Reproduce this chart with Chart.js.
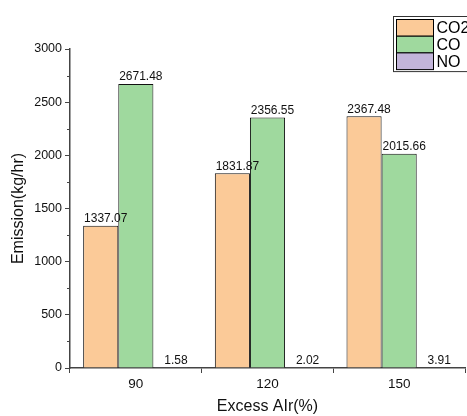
<!DOCTYPE html>
<html>
<head>
<meta charset="utf-8">
<script src="https://cdn.jsdelivr.net/npm/chart.js@4"></script>
<style>
  html, body { margin: 0; padding: 0; background: #fff; }
  #wrap { width: 467px; height: 416px; position: relative; }
</style>
</head>
<body>
<div id="wrap"><canvas id="chart" width="467" height="416"></canvas></div>
<script>
/* ---------- Data ---------- */
const categories = ['90', '120', '150'];
const co2Values = [1337.07, 1831.87, 2367.48];
const coValues = [2671.48, 2356.55, 2015.66];
const noValues = [1.58, 2.02, 3.91];
const seriesNames = ['CO2', 'CO', 'NO'];
const yTicks = [0, 500, 1000, 1500, 2000, 2500, 3000];

const colors = ['#fbca98', '#9fd99e', '#c3b5da'];
const FONT = '"Liberation Sans", Arial, sans-serif';

/* ---------- Plugins ---------- */
// value labels above each bar (Origin puts them a little right of centre)
const valueLabels = {
    id: 'valueLabels',
    afterDatasetsDraw(chart) {
        const ctx = chart.ctx;
        ctx.save();
        ctx.font = '12px ' + FONT;
        ctx.fillStyle = '#111';
        ctx.textAlign = 'center';
        ctx.textBaseline = 'bottom';
        chart.data.datasets.forEach((ds, i) => {
            chart.getDatasetMeta(i).data.forEach((bar, j) => {
                ctx.fillText(ds.data[j].toFixed(2), bar.x + 5, bar.y - 1);
            });
        });
        ctx.restore();
    }
};

// minor ticks on the y axis (halfway between labels)
const minorTicks = {
    id: 'minorTicks',
    afterDraw(chart) {
        const y = chart.scales.y;
        const ctx = chart.ctx;
        ctx.save();
        ctx.strokeStyle = '#444';
        ctx.lineWidth = 1;
        for (let i = 0; i < yTicks.length - 1; i++) {
            const v = (yTicks[i] + yTicks[i + 1]) / 2;
            const py = Math.round(y.getPixelForValue(v)) + 0.5;
            ctx.beginPath();
            ctx.moveTo(y.right - 3, py);
            ctx.lineTo(y.right, py);
            ctx.stroke();
        }
        ctx.restore();
    }
};

// boxed legend in the top-right corner
const boxLegend = {
    id: 'boxLegend',
    afterDraw(chart) {
        const ctx = chart.ctx;
        const x0 = 393.5, y0 = 16.5, rowH = 16.7;
        ctx.save();
        ctx.fillStyle = '#fff';
        ctx.fillRect(x0, y0, 80, rowH * 3 + 5);
        ctx.strokeStyle = '#333';
        ctx.lineWidth = 1;
        ctx.strokeRect(x0, y0, 80, rowH * 3 + 5);
        ctx.font = '16px ' + FONT;
        ctx.textBaseline = 'middle';
        chart.data.datasets.forEach((ds, i) => {
            const top = y0 + 3 + i * rowH;
            ctx.fillStyle = ds.backgroundColor;
            ctx.fillRect(x0 + 3, top, 37, rowH);
            ctx.strokeStyle = '#000';
            ctx.strokeRect(x0 + 3, top, 37, rowH);
            ctx.fillStyle = '#000';
            ctx.fillText(ds.label, x0 + 43, top + rowH / 2 + 1);
        });
        ctx.restore();
    }
};

/* ---------- Chart ---------- */
const datasets = [co2Values, coValues, noValues].map((vals, i) => ({
    label: seriesNames[i],
    data: vals,
    backgroundColor: colors[i],
    borderColor: '#111',
    borderWidth: 1,
    categoryPercentage: 0.8,
    barPercentage: 1
}));

new Chart(document.getElementById('chart'), {
    type: 'bar',
    data: { labels: categories, datasets: datasets },
    plugins: [valueLabels, minorTicks, boxLegend],
    options: {
        responsive: false,
        animation: false,
        devicePixelRatio: 1,
        layout: { padding: { top: 49, right: 2, left: 9, bottom: 0 } },
        plugins: {
            legend: { display: false },
            tooltip: { enabled: false }
        },
        scales: {
            x: {
                grid: { drawOnChartArea: false, offset: true, tickLength: 5, color: '#444' },
                border: { color: '#444', width: 1.5 },
                ticks: { color: '#111', font: { family: FONT, size: 13.5 }, padding: 3 },
                title: { display: true, text: 'Excess AIr(%)', color: '#111', font: { family: FONT, size: 16 }, padding: { top: 0, bottom: 0 } },
                afterFit(scale) { scale.height = 48; }
            },
            y: {
                min: 0,
                max: 3000,
                afterBuildTicks(scale) { scale.ticks = yTicks.map(v => ({ value: v })); },
                grid: { drawOnChartArea: false, tickLength: 5, color: '#444' },
                border: { color: '#444', width: 1.5 },
                ticks: {
                    color: '#111',
                    font: { family: FONT, size: 12.5 },
                    padding: 3,
                    callback: v => String(v)
                },
                title: { display: true, text: 'Emission(kg/hr)', color: '#111', font: { family: FONT, size: 16 }, padding: 0 },
                afterFit(scale) { scale.width = 61; }
            }
        }
    }
});
</script>
</body>
</html>
